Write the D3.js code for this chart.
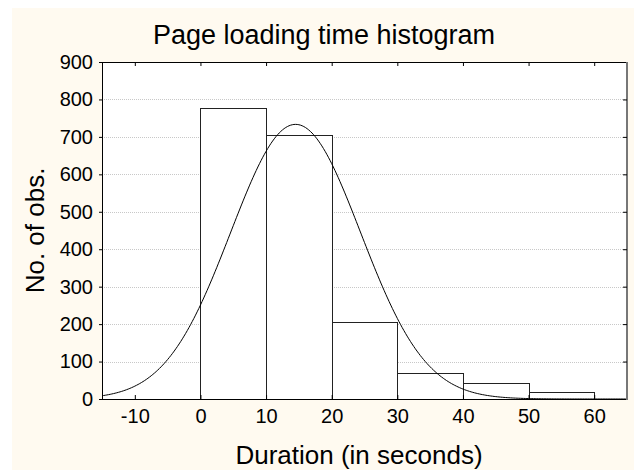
<!DOCTYPE html>
<html>
<head>
<meta charset="utf-8">
<script src="https://cdn.jsdelivr.net/npm/d3@7"></script>
<style>
  body { margin: 0; background: #fff; }
  svg text { font-family: "Liberation Sans", Arial, sans-serif; fill: #000; }
</style>
</head>
<body>
<div id="chart"></div>
<script>
// histogram bins (seconds) and counts
var binStarts = [0, 10, 20, 30, 40, 50]
var binEnds = [10, 20, 30, 40, 50, 60]
var counts = [776, 706, 206, 70, 42, 20]

var xTicks = [-10, 0, 10, 20, 30, 40, 50, 60]
var yTicks = [0, 100, 200, 300, 400, 500, 600, 700, 800, 900]

// fitted normal curve parameters
var fitMean = 14.5
var fitSd = 9.9
var binWidth = 10

var width = 634,
  height = 470
var margin = { top: 62, right: 7, bottom: 71, left: 102 }
var innerW = width - margin.left - margin.right,
  innerH = height - margin.top - margin.bottom

var svg = d3.select("#chart")
  .append("svg")
  .attr("width", width)
  .attr("height", height)

// beige panel
svg.append("rect")
  .attr("x", 12)
  .attr("y", 8)
  .attr("width", width - 12)
  .attr("height", height - 8)
  .attr("fill", "#fffaf0")

var x = d3.scaleLinear().domain([-15, 65]).range([0, innerW])
var y = d3.scaleLinear().domain([0, 900]).range([innerH, 0])

var g = svg.append("g")
  .attr("transform", "translate(" + margin.left + "," + margin.top + ")")

g.append("rect")
  .attr("width", innerW)
  .attr("height", innerH)
  .attr("fill", "#fff")

g.append("defs").append("clipPath")
  .attr("id", "clip")
  .append("rect")
  .attr("width", innerW)
  .attr("height", innerH)

// dotted grid
g.selectAll(".grid")
  .data(yTicks.filter(function (d) { return d > 0 && d < 900 }))
  .enter()
  .append("line")
  .attr("class", "grid")
  .attr("x1", 0)
  .attr("x2", innerW)
  .attr("y1", function (d) { return Math.round(y(d)) + 0.5 })
  .attr("y2", function (d) { return Math.round(y(d)) + 0.5 })
  .attr("stroke", "#c8c8c8")
  .attr("stroke-dasharray", "1,1")

// bars
g.selectAll(".bar")
  .data(counts)
  .enter()
  .append("rect")
  .attr("class", "bar")
  .attr("x", function (d, i) { return Math.round(x(binStarts[i])) + 0.5 })
  .attr("y", function (d) { return Math.round(y(d)) + 0.5 })
  .attr("width", function (d, i) { return Math.round(x(binEnds[i])) - Math.round(x(binStarts[i])) })
  .attr("height", function (d) { return innerH - Math.round(y(d)) })
  .attr("fill", "#fff")
  .attr("stroke", "#222")
  .attr("stroke-width", 1)

// normal curve
var total = d3.sum(counts)
var curveX = d3.range(-15, 65.01, 0.25)
var normal = function (v) {
  var z = (v - fitMean) / fitSd
  return total * binWidth / (fitSd * Math.sqrt(2 * Math.PI)) * Math.exp(-0.5 * z * z)
}

g.append("path")
  .datum(curveX)
  .attr("clip-path", "url(#clip)")
  .attr("fill", "none")
  .attr("stroke", "#000")
  .attr("stroke-width", 1)
  .attr("d", d3.line()
    .x(function (d) { return x(d) })
    .y(function (d) { return y(normal(d)) }))

// frame
g.append("line").attr("x1", 0.5).attr("x2", 0.5).attr("y1", 0).attr("y2", innerH).attr("stroke", "#000")
g.append("line").attr("x1", 0).attr("x2", innerW).attr("y1", 0.5).attr("y2", 0.5).attr("stroke", "#000")
g.append("line").attr("x1", 0).attr("x2", innerW).attr("y1", innerH + 0.5).attr("y2", innerH + 0.5).attr("stroke", "#000")
g.append("line").attr("x1", innerW).attr("x2", innerW).attr("y1", 0).attr("y2", innerH + 1).attr("stroke", "#777").attr("stroke-width", 2)

// axes
var xAxis = g.append("g")
  .attr("transform", "translate(0," + innerH + ")")
  .call(d3.axisBottom(x).tickValues(xTicks).tickSize(-4).tickPadding(22).tickFormat(function (d) { return String(d) }))
xAxis.select(".domain").remove()
xAxis.selectAll("text").attr("font-size", 20).attr("dy", "0.1em")

var xTop = g.append("g")
  .call(d3.axisTop(x).tickValues(xTicks).tickSize(-4).tickFormat(""))
xTop.select(".domain").remove()

var yAxis = g.append("g")
  .call(d3.axisLeft(y).tickValues(yTicks).tickSizeInner(3).tickSizeOuter(0).tickPadding(6))
yAxis.select(".domain").remove()
yAxis.selectAll("text").attr("font-size", 20)

var yRight = g.append("g")
  .attr("transform", "translate(" + innerW + ",0)")
  .call(d3.axisRight(y).tickValues(yTicks.filter(function (d) { return d > 0 && d < 900 })).tickSize(-4).tickFormat(""))
yRight.select(".domain").remove()

// texts
svg.append("text")
  .attr("x", 324)
  .attr("y", 44)
  .attr("text-anchor", "middle")
  .attr("font-size", 27)
  .text("Page loading time histogram")

svg.append("text")
  .attr("x", 359)
  .attr("y", 464)
  .attr("text-anchor", "middle")
  .attr("font-size", 26)
  .text("Duration (in seconds)")

svg.append("text")
  .attr("transform", "translate(44," + (margin.top + innerH / 2) + ") rotate(-90)")
  .attr("text-anchor", "middle")
  .attr("font-size", 26)
  .text("No. of obs.")
</script>
</body>
</html>
